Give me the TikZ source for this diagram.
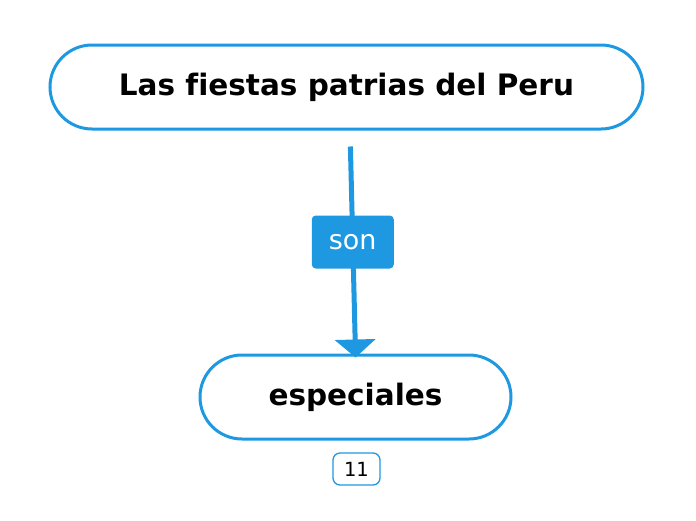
\documentclass[tikz,border=0pt]{standalone}
\usepackage{fontspec}
\setmainfont{DejaVu Sans}[Ligatures=NoCommon]
\usepackage{tikz}
\usetikzlibrary{
    arrows.meta,
    calc,
    positioning
}

\definecolor{mapblue}{RGB}{30,152,224}

\tikzset{
    topic/.style={draw=mapblue, line width=3pt, fill=white, rounded corners=42pt,
        minimum height=84pt, font=\fontsize{29.5}{34}\selectfont\bfseries, text=black},
    linkword/.style={fill=mapblue, rounded corners=4pt, minimum width=82pt,
        minimum height=53pt, text=white, font=\fontsize{27}{30}\selectfont},
    countbox/.style={draw=mapblue, line width=1.3pt, rounded corners=7pt,
        minimum width=47pt, minimum height=32pt, font=\fontsize{19.5}{22}\selectfont}
}

\begin{document}
\begin{tikzpicture}[x=1pt,y=-1pt]

\useasboundingbox (0,0) rectangle (696,520);

% Main topic
\node[topic, minimum width=593pt] (fiestas) at (346.5,87) {Las fiestas patrias del Peru};

% Sub topic
\node[topic, minimum width=311pt] (especiales) at (355.5,397) {especiales};

% Connector with linking word
\draw[mapblue, line width=5pt, shorten <=16pt, shorten >=-4pt,
    -{Triangle[width=40pt,length=18pt]}]
    ([xshift=3.5pt]fiestas.south) -- (especiales.north)
    node[linkword, pos=0.5] (son) {son};

% Number of children
\node[countbox] (count) at (356.5,469) {11};

\end{tikzpicture}
\end{document}
